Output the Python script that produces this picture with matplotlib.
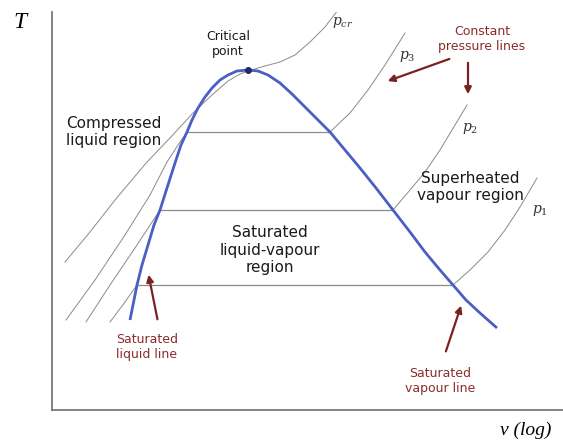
"""
T-v diagram of a pure substance: saturation dome plus a few constant pressure lines.
Coordinates were read off the reference picture (v on a log-like scale, T arbitrary).
"""
import matplotlib
matplotlib.use("Agg")
import matplotlib.pyplot as plt

plt.rcParams["mathtext.fontset"] = "dejavuserif"

# saturation dome (liquid branch -> critical point -> vapour branch)
v_dome = [130, 134, 137, 142, 148, 154, 160, 167, 175, 181, 187, 192, 198, 205, 212, 220,
          228, 237, 248, 258, 268, 280, 292, 305, 318, 330, 345, 360, 376, 393, 410, 425,
          440, 453, 466, 480, 497]
y_dome = [320, 300, 285, 265, 245, 225, 210, 188, 163, 145, 132, 120, 108, 97, 88, 80,
          75, 71, 70, 71, 75, 83, 94, 107, 120, 132, 150, 168, 188, 210, 232, 252,
          270, 285, 300, 313, 328]
T_dome = [445 - y for y in y_dome]

critical_v, critical_T = 248, 445 - 70

# critical isobar
v_pcr = [65, 90, 115, 147, 170, 193, 212, 228, 240, 248, 265, 280, 295, 310, 325, 338]
T_pcr = [445 - y for y in [262, 232, 200, 162, 138, 113, 95, 81, 74, 71, 66, 62, 55, 42, 27, 10]]

# subcritical isobars: compressed liquid part and superheated vapour part
v_p3_liq = [66, 95, 125, 150, 167, 178, 187]
T_p3_liq = [445 - y for y in [320, 280, 235, 195, 162, 145, 132]]
v_p3_vap = [330, 350, 368, 385, 405]
T_p3_vap = [445 - y for y in [132, 113, 90, 65, 33]]

v_p2_liq = [86, 110, 135, 160]
T_p2_liq = [445 - y for y in [322, 285, 248, 210]]
v_p2_vap = [393, 410, 425, 440, 455, 467]
T_p2_vap = [445 - y for y in [210, 190, 172, 150, 125, 105]]

v_p1_liq = [110, 125, 137]
T_p1_liq = [445 - y for y in [322, 302, 285]]
v_p1_vap = [453, 470, 488, 505, 520, 530, 537]
T_p1_vap = [445 - y for y in [285, 270, 252, 230, 207, 190, 178]]

# horizontal lines inside the dome (liquid end, vapour end, T)
tie_v_left = [187, 160, 137]
tie_v_right = [330, 393, 453]
tie_T = [445 - 132, 445 - 210, 445 - 285]

BLUE = "#4a5fc4"
GREY = "#8a8a8a"
DARKRED = "#8b2b2b"

fig = plt.figure(figsize=(5.63, 4.45), dpi=100)
ax = fig.add_axes([52 / 563, 35 / 445, 511 / 563, 398 / 445])
ax.set_xlim(52, 563)
ax.set_ylim(35, 433)
for side in ["top", "right"]:
    ax.spines[side].set_visible(False)
for side in ["left", "bottom"]:
    ax.spines[side].set_color("#6e6e6e")
    ax.spines[side].set_linewidth(1.2)
ax.set_xticks([])
ax.set_yticks([])

# isobars
iso_kw = dict(color=GREY, lw=0.7)
ax.plot(v_pcr, T_pcr, **iso_kw)
for vv, tt in [(v_p3_liq, T_p3_liq), (v_p3_vap, T_p3_vap), (v_p2_liq, T_p2_liq),
               (v_p2_vap, T_p2_vap), (v_p1_liq, T_p1_liq), (v_p1_vap, T_p1_vap)]:
    ax.plot(vv, tt, **iso_kw)
for vl, vr, t in zip(tie_v_left, tie_v_right, tie_T):
    ax.plot([vl, vr], [t, t], color=GREY, lw=0.9)

ax.plot(v_dome, T_dome, color=BLUE, lw=2.0, solid_capstyle="butt", solid_joinstyle="round")
ax.plot(critical_v, critical_T, "o", color="#1f2a6b", ms=4)

# isobar labels
lab_kw = dict(fontsize=10, color="#333333", ha="center", va="center")
ax.text(343, 445 - 22, "$p_{cr}$", **lab_kw)
ax.text(407, 445 - 56, "$p_3$", **lab_kw)
ax.text(470, 445 - 128, "$p_2$", **lab_kw)
ax.text(540, 445 - 210, "$p_1$", **lab_kw)

# region labels
txt_kw = dict(fontsize=11, color="#1a1a1a", va="center", linespacing=1.2)
ax.text(66, 445 - 132, "Compressed\nliquid region", ha="left", **txt_kw)
ax.text(270, 445 - 250, "Saturated\nliquid-vapour\nregion", ha="center", **txt_kw)
ax.text(470, 445 - 187, "Superheated\nvapour region", ha="center", **txt_kw)
ax.text(228, 445 - 44, "Critical\npoint", ha="center", va="center", fontsize=9,
        color="#1a1a1a", linespacing=1.15)

# annotations in dark red
red_kw = dict(fontsize=9, color=DARKRED, ha="center", va="center", linespacing=1.25)
ax.text(482, 445 - 39, "Constant\npressure lines", **red_kw)
ax.text(147, 445 - 347, "Saturated\nliquid line", **red_kw)
ax.text(440, 445 - 381, "Saturated\nvapour line", **red_kw)

arrow_kw = dict(arrowstyle="-|>", color="#7a2222", lw=1.6, mutation_scale=10)
ax.annotate("", xy=(385, 445 - 82), xytext=(452, 445 - 58), arrowprops=arrow_kw)
ax.annotate("", xy=(468, 445 - 97), xytext=(468, 445 - 60), arrowprops=arrow_kw)
ax.annotate("", xy=(148, 445 - 272), xytext=(158, 445 - 322), arrowprops=arrow_kw)
ax.annotate("", xy=(462, 445 - 303), xytext=(445, 445 - 354), arrowprops=arrow_kw)

# axis labels placed as in the reference
fig.text(20 / 563, 1 - 22 / 445, "T", fontsize=17, family="Liberation Serif",
         style="italic", ha="center", va="center")
fig.text(526 / 563, 1 - 430 / 445, "v (log)", fontsize=14, family="Liberation Serif",
         style="italic", ha="center", va="center")

fig.savefig("out.png", dpi=100)
